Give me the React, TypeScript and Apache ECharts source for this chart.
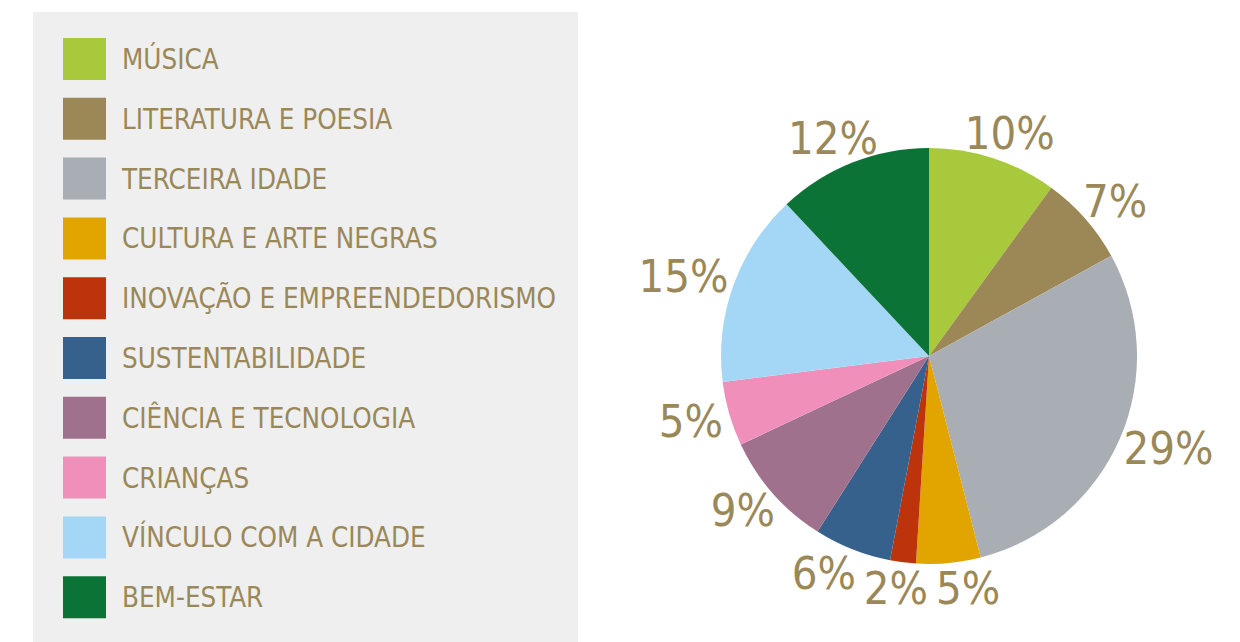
import React, { useEffect, useRef } from "react";
import * as echarts from "echarts";

const categories = [
  "MÚSICA",
  "LITERATURA E POESIA",
  "TERCEIRA IDADE",
  "CULTURA E ARTE NEGRAS",
  "INOVAÇÃO E EMPREENDEDORISMO",
  "SUSTENTABILIDADE",
  "CIÊNCIA E TECNOLOGIA",
  "CRIANÇAS",
  "VÍNCULO COM A CIDADE",
  "BEM-ESTAR",
];
const values = [10, 7, 29, 5, 2, 6, 9, 5, 15, 12];
const colors = [
  "#A7C93B",
  "#9C8857",
  "#A8AEB4",
  "#E2A500",
  "#BC330C",
  "#37618D",
  "#A0718C",
  "#F08FBA",
  "#A3D7F5",
  "#0A7335",
];

const TEXT_COLOR = "#9A8858";
const FONT = "'Liberation Sans Narrow', 'DejaVu Sans Condensed', 'Roboto', sans-serif";
const LABEL_SIZE = 45;

export default function App() {
  const ref = useRef<HTMLDivElement>(null);
  useEffect(() => {
    document.body.style.margin = "0";
    const chart = echarts.init(ref.current!, null, { renderer: "svg" });
    const cx = 929;
    const cy = 356;
    const radius = 208;
    const total = values.reduce((a, b) => a + b, 0);

    // measure label widths
    const ctx = document.createElement("canvas").getContext("2d")!;
    ctx.font = `${LABEL_SIZE}px ${FONT}`;
    const labelText = values.map((v) => `${v}%`);
    const widths = labelText.map((t) => ctx.measureText(t).width);
    const h = LABEL_SIZE * 0.8;

    // initial label centres just outside each slice's mid-angle
    const pos: { x: number; y: number }[] = [];
    let acc = 0;
    values.forEach((v, i) => {
      const t = ((acc + v / 2) / total) * Math.PI * 2;
      acc += v;
      const s = Math.sin(t);
      const c = Math.cos(t);
      const r0 = radius + 8;
      pos.push({
        x: cx + r0 * s + (widths[i] / 2) * s,
        y: cy - r0 * c - (h / 2) * c,
      });
    });
    // push apart overlapping labels horizontally
    const gap = 8;
    for (let it = 0; it < 30; it++) {
      for (let i = 0; i < pos.length; i++) {
        for (let j = i + 1; j < pos.length; j++) {
          const dx = pos[j].x - pos[i].x;
          const need = (widths[i] + widths[j]) / 2 + gap;
          if (Math.abs(dx) < need && Math.abs(pos[j].y - pos[i].y) < h) {
            const sh = (need - Math.abs(dx)) / 2;
            const dir = dx >= 0 ? 1 : -1;
            pos[i].x -= sh * dir;
            pos[j].x += sh * dir;
          }
        }
      }
    }

    const data = categories.map((name, i) => ({
      name,
      value: values[i],
      itemStyle: { color: colors[i] },
    }));
    chart.setOption({
      animation: false,
      graphic: [
        {
          type: "rect",
          shape: { x: 33, y: 12, width: 545, height: 640 },
          style: { fill: "#EFEFEF" },
          z: -10,
        },
      ],
      legend: {
        orient: "vertical",
        left: 63,
        top: 38,
        padding: 0,
        itemWidth: 43,
        itemHeight: 42,
        itemGap: 17.8,
        icon: "rect",
        selectedMode: false,
        data: categories,
        textStyle: {
          color: TEXT_COLOR,
          fontSize: 27.5,
          fontFamily: FONT,
          padding: [0, 0, 0, 11],
        },
      },
      series: [
        {
          type: "pie",
          center: [cx, cy],
          radius: [0, radius],
          startAngle: 90,
          clockwise: true,
          silent: true,
          avoidLabelOverlap: false,
          labelLine: { show: false, length: 5, length2: 0 },
          label: {
            show: true,
            position: "outside",
            formatter: "{c}%",
            color: TEXT_COLOR,
            fontSize: LABEL_SIZE,
            fontFamily: FONT,
          },
          labelLayout: (params: any) => {
            const p = pos[params.dataIndex];
            return {
              x: p.x,
              y: p.y,
              align: "center",
              verticalAlign: "middle",
            };
          },
          data,
        },
      ],
    });
    return () => chart.dispose();
  }, []);
  return <div ref={ref} style={{ width: 1240, height: 642 }} />;
}
